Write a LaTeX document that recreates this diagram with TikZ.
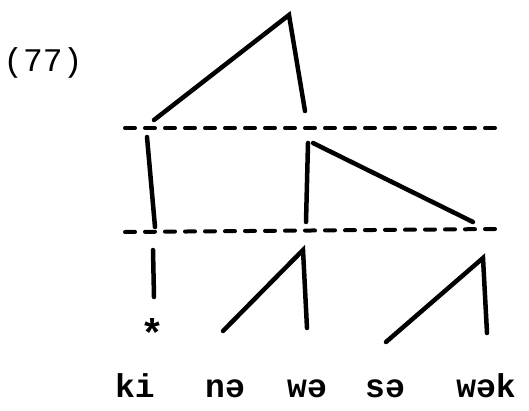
\documentclass[tikz,border=0pt]{standalone}
\usepackage{fontspec}
\setmonofont{Liberation Mono}
\begin{document}
\begin{tikzpicture}[x=1pt,y=-1pt,line width=4.5pt,line cap=round,
        tier/.style={line width=4pt,dash pattern=on 10pt off 10pt},
        seg/.style={font=\ttfamily\bfseries\fontsize{33}{33}\selectfont,inner sep=0pt,anchor=base}]
    \useasboundingbox (0,0) rectangle (529,411);
    \node[seg,font=\ttfamily\fontsize{33}{33}\selectfont] (num) at (43,72) {(77)};
    % segments
    \foreach \x/\name/\txt in {135/ki/ki,225/na/nə,307/wa/wə,385/sa/sə,486/wak/wək} {
        \node[seg] (\name) at (\x,397) {\txt};
    }
    \node[seg,anchor=center,font=\ttfamily\bfseries\fontsize{40}{40}\selectfont] (star) at (152,333) {*};
    % tiers
    \coordinate (t1l) at (125,128); \coordinate (t1r) at (498,128);
    \coordinate (t2l) at (125,232); \coordinate (t2r) at (498,229);
    \draw[tier] (t1l) -- (t1r);
    \draw[tier] (t2l) -- (t2r);
    % top tier
    \coordinate (apex) at (289,15);
    \coordinate (a1) at (154,120); \coordinate (a2) at (305,111);
    \draw (a1) -- (apex) -- (a2);
    % middle tier
    \coordinate (b1) at (147,137); \coordinate (b1e) at (155,227);
    \coordinate (b2) at (308,143); \coordinate (b2e) at (306,222);
    \coordinate (b3) at (313,143); \coordinate (b3e) at (473,222);
    \draw (b1) -- (b1e);
    \draw (b2) -- (b2e);
    \draw (b3) -- (b3e);
    % lower tier
    \coordinate (c1) at (153,250); \coordinate (c1e) at (154,297);
    \draw (c1) -- (c1e);
    \coordinate (d1) at (223,331); \coordinate (d2) at (303,250); \coordinate (d3) at (307,328);
    \draw (d1) -- (d2) -- (d3);
    \coordinate (e1) at (386,342); \coordinate (e2) at (483,258); \coordinate (e3) at (487,333);
    \draw (e1) -- (e2) -- (e3);
\end{tikzpicture}
\end{document}
